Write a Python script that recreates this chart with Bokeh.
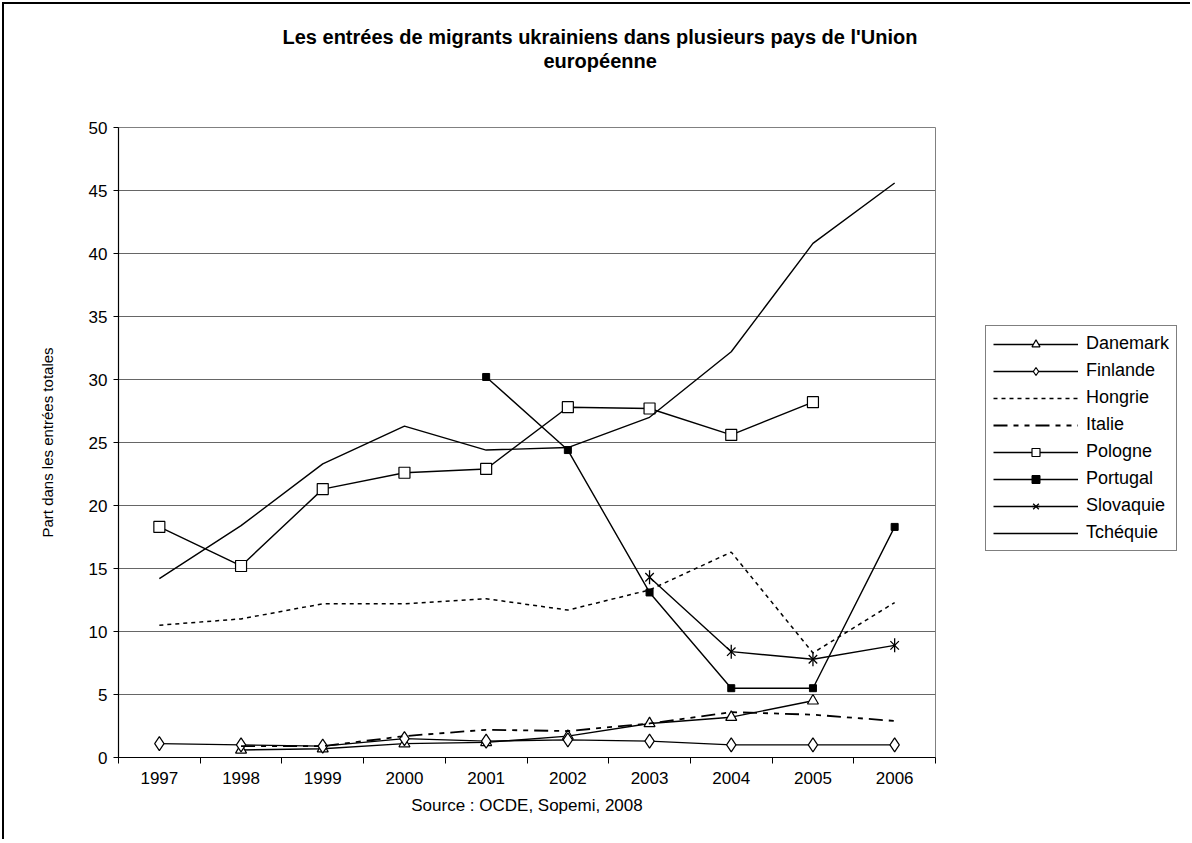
import math
from bokeh.plotting import figure
from bokeh.layouts import row
from bokeh.models import (FixedTicker, Legend, LegendItem, Title, Range1d, CustomJSTickFormatter)
from bokeh.embed import file_html
from bokeh.resources import INLINE

nan = float("nan")

# ---- data ----
years = [1997, 1998, 1999, 2000, 2001, 2002, 2003, 2004, 2005, 2006]
danemark = [nan, 0.6, 0.7, 1.1, 1.2, 1.7, 2.7, 3.2, 4.5, nan]
finlande = [1.1, 1.0, 0.9, 1.5, 1.3, 1.4, 1.3, 1.0, 1.0, 1.0]
hongrie = [10.5, 11.0, 12.2, 12.2, 12.6, 11.7, 13.3, 16.3, 8.3, 12.3]
italie = [nan, 0.9, 0.9, 1.7, 2.2, 2.1, 2.7, 3.6, 3.4, 2.9]
pologne = [18.3, 15.2, 21.3, 22.6, 22.9, 27.8, 27.7, 25.6, 28.2, nan]
portugal = [nan, nan, nan, nan, 30.2, 24.4, 13.1, 5.5, 5.5, 18.3]
slovaquie = [nan, nan, nan, nan, nan, nan, 14.3, 8.4, 7.8, 8.9]
tchequie = [14.2, 18.4, 23.3, 26.3, 24.4, 24.6, 27.0, 32.2, 40.8, 45.6]
y_ticks = [0, 5, 10, 15, 20, 25, 30, 35, 40, 45, 50]

series_names = ["Danemark", "Finlande", "Hongrie", "Italie", "Pologne", "Portugal", "Slovaquie", "Tchéquie"]
series_values = [danemark, finlande, hongrie, italie, pologne, portugal, slovaquie, tchequie]

title_line1 = "Les entrées de migrants ukrainiens dans plusieurs pays de l'Union"
title_line2 = "européenne"
x_title = "Source : OCDE, Sopemi, 2008"
y_title = "Part dans les entrées totales"

FONT = "Liberation Sans"
LW = 1.4


def add_series(fig, name, xs, ys):
    """Draw one series in its Excel-like style; returns the renderers."""
    rs = []
    if name == "Hongrie":
        rs.append(fig.line(xs, ys, line_color="black", line_width=1.5, line_dash="4 4"))
    elif name == "Italie":
        rs.append(fig.line(xs, ys, line_color="black", line_width=1.8, line_dash="14 6 5 6 5 6"))
    else:
        rs.append(fig.line(xs, ys, line_color="black", line_width=LW))
    if name == "Danemark":
        rs.append(fig.scatter(xs, ys, marker="triangle", size=11, fill_color="white",
                              line_color="black", line_width=1.2))
    elif name == "Finlande":
        rs.append(fig.scatter(xs, ys, marker="diamond", size=14, fill_color="white",
                              line_color="black", line_width=1.2))
    elif name == "Pologne":
        rs.append(fig.scatter(xs, ys, marker="square", size=11, fill_color="white",
                              line_color="black", line_width=1.2))
    elif name == "Portugal":
        rs.append(fig.scatter(xs, ys, marker="square", size=7, fill_color="black", line_color="black"))
    elif name == "Slovaquie":
        rs.append(fig.scatter(xs, ys, marker="x", size=12, line_color="black", line_width=1.3))
        rs.append(fig.scatter(xs, ys, marker="dash", size=14, angle=math.pi / 2,
                              line_color="black", line_width=1.3))
    return rs


H = 835
P_W = 933
p = figure(width=P_W, height=H, output_backend="svg", toolbar_location=None, title=None,
           x_range=Range1d(years[0] - 0.5, years[-1] + 0.5),
           y_range=Range1d(0, 50),
           min_border_left=114, min_border_top=123, min_border_right=2,
           min_border_bottom=82)
p.background_fill_color = "white"
p.border_fill_color = "white"
p.outline_line_color = "#808080"
p.outline_line_width = 1

# axes
p.xaxis.ticker = FixedTicker(ticks=years, minor_ticks=[y - 0.5 for y in years] + [years[-1] + 0.5])
p.xaxis.formatter = CustomJSTickFormatter(code="return String(tick);")
p.xaxis.major_tick_out = 0
p.xaxis.major_tick_in = 0
p.xaxis.minor_tick_out = 6
p.xaxis.minor_tick_in = 0
p.xaxis.minor_tick_line_color = "black"
p.xaxis.axis_line_color = "black"
p.xaxis.axis_line_width = 1.2
p.xaxis.major_label_text_font = FONT
p.xaxis.major_label_text_font_size = "17px"
p.xaxis.major_label_text_color = "black"
p.xaxis.major_label_standoff = 8
p.xaxis.axis_label = x_title
p.xaxis.axis_label_text_font = FONT
p.xaxis.axis_label_text_font_size = "17px"
p.xaxis.axis_label_text_font_style = "normal"
p.xaxis.axis_label_text_color = "black"
p.xaxis.axis_label_standoff = 9

p.yaxis.ticker = FixedTicker(ticks=y_ticks)
p.yaxis.minor_tick_line_color = None
p.yaxis.major_tick_out = 5
p.yaxis.major_tick_in = 0
p.yaxis.major_tick_line_color = "black"
p.yaxis.axis_line_color = "black"
p.yaxis.axis_line_width = 1.2
p.yaxis.major_label_text_font = FONT
p.yaxis.major_label_text_font_size = "17px"
p.yaxis.major_label_text_color = "black"
p.yaxis.major_label_standoff = 6
p.yaxis.axis_label = y_title
p.yaxis.axis_label_text_font = FONT
p.yaxis.axis_label_text_font_size = "15px"
p.yaxis.axis_label_text_font_style = "normal"
p.yaxis.axis_label_text_color = "black"
p.yaxis.axis_label_standoff = 30

p.xgrid.grid_line_color = None
p.ygrid.grid_line_color = "#666666"
p.ygrid.grid_line_width = 1

for name, vals in zip(series_names, series_values):
    add_series(p, name, years, vals)

# titles: spacer nearest the frame, then line 2, then line 1 (outermost)
TFS = "20px"
spacer = Title(text=" ", standoff=32, text_font=FONT, text_font_size=TFS)
t2 = Title(text=title_line2, align="left", offset=425, standoff=0,
           text_font=FONT, text_font_size=TFS, text_font_style="bold", text_color="black")
t1 = Title(text=title_line1, align="left", offset=164, standoff=0,
           text_font=FONT, text_font_size=TFS, text_font_style="bold", text_color="black")
p.add_layout(spacer, "above")
p.add_layout(t2, "above")
p.add_layout(t1, "above")

# legend panel to the right of the plot area (its frame is aligned with the plot's frame)
L_W = 253
q = figure(width=L_W, height=H, output_backend="svg", toolbar_location=None,
           x_axis_location=None, y_axis_location=None, min_border=0,
           x_range=Range1d(0, 1), y_range=Range1d(0, 1))
q.grid.visible = False
q.outline_line_color = None
q.background_fill_color = "white"
q.border_fill_color = "white"

items = []
for name, vals in zip(series_names, series_values):
    # same series drawn outside this panel's visible range: only their legend glyphs show
    rs = add_series(q, name, years, vals)
    items.append(LegendItem(label=name, renderers=rs))

legend = Legend(items=items, location=(48, 206), orientation="vertical",
                glyph_width=85, glyph_height=20, label_height=20, spacing=6,
                padding=7, margin=0, label_standoff=8,
                label_text_font=FONT, label_text_font_size="18px", label_text_color="black",
                border_line_color="black", border_line_width=1.2,
                background_fill_color="white", background_fill_alpha=1.0)
q.add_layout(legend, "center")

layout = row(p, q)
layout.styles = {"border-left": "2px solid black", "border-top": "2px solid black",
                 "margin-left": "2px", "margin-top": "2px"}

open("out.html", "w").write(file_html(layout, INLINE))
